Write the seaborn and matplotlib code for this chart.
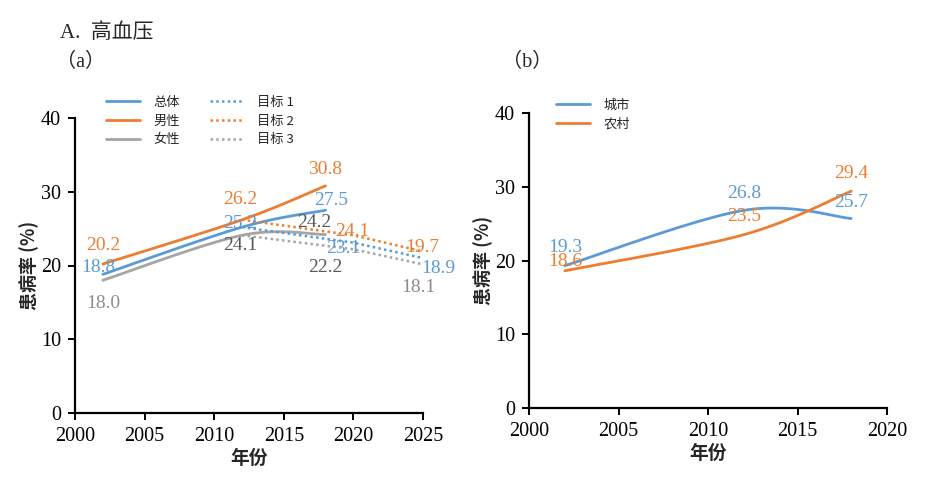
import numpy as np
import seaborn as sns
import matplotlib
matplotlib.use("Agg")
import matplotlib.pyplot as plt
from matplotlib.lines import Line2D

# ---- data ----
years = [2002, 2012, 2018]
total = [18.8, 25.2, 27.5]
male = [20.2, 26.2, 30.8]
female = [18.0, 24.1, 24.2]

target_years = [2012, 2020, 2030]
target1 = [25.2, 23.1, 18.9]
target2 = [26.2, 24.1, 19.7]
target3 = [24.1, 22.2, 18.1]

urban = [19.3, 26.8, 25.7]
rural = [18.6, 23.5, 29.4]

BLUE = "#5B9BD5"
ORANGE = "#ED7D31"
GRAY = "#A5A5A5"
DGRAY = "#595959"
LGRAY = "#8C8C8C"
DOT = (0, (1, 1.3))

sns.set_style("ticks")
plt.rcParams["font.family"] = ["Liberation Serif", "Noto Sans CJK SC"]
CJK = ["Noto Sans CJK SC", "Liberation Serif"]


def smooth(xs, ys, n=40):
    # excel-like smoothed line (bezier through points)
    p = np.column_stack([xs, ys]).astype(float)
    ext = np.vstack([p[0], p, p[-1]])
    out = []
    t = np.linspace(0, 1, n)[:, None]
    for i in range(len(p) - 1):
        p0, p1, p2, p3 = ext[i], ext[i + 1], ext[i + 2], ext[i + 3]
        c1 = p1 + (p2 - p0) / 6
        c2 = p2 - (p3 - p1) / 6
        seg = ((1 - t) ** 3) * p1 + 3 * ((1 - t) ** 2) * t * c1 + 3 * (1 - t) * t ** 2 * c2 + t ** 3 * p2
        out.append(seg if i == 0 else seg[1:])
    out = np.vstack(out)
    return out[:, 0], out[:, 1]


def style_axes(ax, xmax):
    sns.despine(ax=ax)
    ax.set_xlim(2000, xmax)
    ax.set_ylim(0, 40)
    ax.set_xticks(range(2000, xmax + 1, 5))
    ax.set_yticks(range(0, 41, 10))
    for s in ["left", "bottom"]:
        ax.spines[s].set_linewidth(1.6)
        ax.spines[s].set_color("black")
    ax.tick_params(direction="out", length=5, width=1.4, labelsize=14.5, colors="black", pad=5)
    ax.set_xlabel("年份", family=CJK, fontsize=13.5, fontweight="bold", labelpad=2)
    ax.set_ylabel("患病率 (%)", family=CJK, fontsize=13, fontweight="bold", labelpad=1)
    ax.grid(False)


def label(ax, x, y, text, color, dx, dy):
    ax.annotate(text, (x, y), xytext=(dx, dy), textcoords="offset pixels",
                ha="center", va="center", color=color, fontsize=14, annotation_clip=False)


fig = plt.figure(figsize=(9.4, 4.86), dpi=100)
ax1 = fig.add_axes([75 / 940, 73 / 486, 348 / 940, 295 / 486])
ax2 = fig.add_axes([529 / 940, 78 / 486, 358 / 940, 295 / 486])

# ---- panel a ----
for vals, c in [(female, GRAY), (total, BLUE), (male, ORANGE)]:
    sx, sy = smooth(years, vals)
    sns.lineplot(x=sx, y=sy, sort=False, color=c, lw=2, ax=ax1, estimator=None)
for vals, c in [(target3, GRAY), (target1, BLUE), (target2, ORANGE)]:
    sns.lineplot(x=target_years, y=vals, sort=False, color=c, lw=1.8, ls=DOT, ax=ax1, estimator=None)
style_axes(ax1, 2025)

offs_a = {
    "male": [(0, 19), (-2, 20), (0, 16)],
    "total": [(-5, 7), (-2, 4), (6, 10)],
    "female": [(0, -23), (-2, -10), (-11, 12)],
}
for vals, c, key in [(male, ORANGE, "male"), (total, BLUE, "total"), (female, DGRAY, "female")]:
    for i, (x, v) in enumerate(zip(years, vals)):
        col = LGRAY if (key == "female" and i == 0) else c
        label(ax1, x, v, f"{v:.1f}", col, *offs_a[key][i])

offs_t = {
    "t2": [(-1, 4), (-1, 20)],
    "t1": [(-10, -6), (15, 5)],
    "t3": [(-28, -18), (-5, -8)],
}
for vals, c, key in [(target2, ORANGE, "t2"), (target1, BLUE, "t1"), (target3, DGRAY, "t3")]:
    for j, (x, v) in enumerate(zip(target_years[1:], vals[1:])):
        col = LGRAY if (key == "t3" and j == 1) else c
        label(ax1, min(x, 2025), v, f"{v:.1f}", col, *offs_t[key][j])

h_a = [Line2D([], [], color=BLUE, lw=2), Line2D([], [], color=ORANGE, lw=2), Line2D([], [], color=GRAY, lw=2),
       Line2D([], [], color=BLUE, lw=1.8, ls=DOT), Line2D([], [], color=ORANGE, lw=1.8, ls=DOT),
       Line2D([], [], color=GRAY, lw=1.8, ls=DOT)]
ax1.legend(h_a, ["总体", "男性", "女性", "目标 1", "目标 2", "目标 3"], ncol=2,
           loc="upper left", bbox_to_anchor=(99 / 940, 1 - 89 / 486), bbox_transform=fig.transFigure,
           frameon=False, prop={"family": CJK, "size": 9.5}, handlelength=2.6,
           handletextpad=1.0, columnspacing=2.3, labelspacing=0.45, borderpad=0)

# ---- panel b ----
for vals, c in [(urban, BLUE), (rural, ORANGE)]:
    sx, sy = smooth(years, vals)
    sns.lineplot(x=sx, y=sy, sort=False, color=c, lw=2, ax=ax2, estimator=None)
style_axes(ax2, 2020)

offs_b = {
    "urban": [(0, 18), (0, 17), (0, 16)],
    "rural": [(0, 9), (0, 18), (0, 18)],
}
for vals, c, key in [(urban, BLUE, "urban"), (rural, ORANGE, "rural")]:
    for i, (x, v) in enumerate(zip(years, vals)):
        label(ax2, x, v, f"{v:.1f}", c, *offs_b[key][i])

h_b = [Line2D([], [], color=BLUE, lw=2), Line2D([], [], color=ORANGE, lw=2)]
ax2.legend(h_b, ["城市", "农村"], loc="upper left", bbox_to_anchor=(549 / 940, 1 - 92 / 486),
           bbox_transform=fig.transFigure, frameon=False, prop={"family": CJK, "size": 9.5},
           handlelength=2.6, handletextpad=1.0, labelspacing=0.45, borderpad=0)

# ---- titles ----
fig.text(60 / 940, 1 - 33 / 486, "A.  高血压", fontsize=15, va="center", ha="left")
fig.text(56 / 940, 1 - 62 / 486, "（a）", fontsize=14.5, va="center", ha="left")
fig.text(502 / 940, 1 - 62 / 486, "（b）", fontsize=14.5, va="center", ha="left")

fig.savefig("out.png", dpi=100)
